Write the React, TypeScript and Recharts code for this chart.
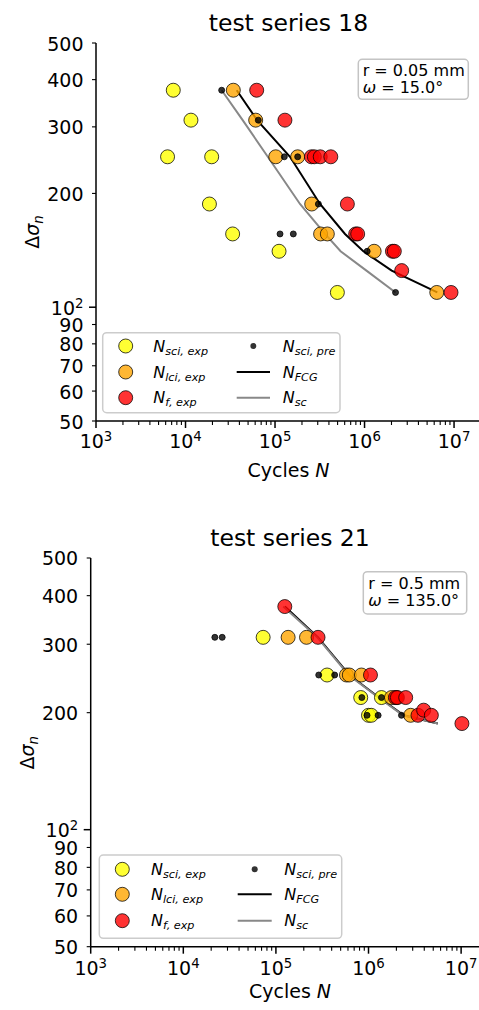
import React from "react";
import { ComposedChart, Scatter, Line, XAxis, YAxis } from "recharts";

// test series 18  [cycles N, stress range]
const sciExp18 = [[7300, 375], [11500, 312.5], [6300, 250], [19600, 250], [18500, 187.5], [33600, 156.25], [110900, 140.6], [497000, 109.4]];
const lciExp18 = [[34200, 375], [60800, 312.5], [101900, 250], [179000, 250], [257000, 187.5], [323000, 156.25], [384000, 156.25], [1280000, 140.6], [6410000, 109.4]];
const fExp18 = [[62400, 375], [129000, 312.5], [255000, 250], [275000, 250], [320000, 250], [420000, 250], [643000, 187.5], [796000, 156.25], [838000, 156.25], [2050000, 140.6], [2150000, 140.6], [2600000, 125], [9250000, 109.4]];
const sciPre18 = [[25350, 375], [65000, 312.5], [127000, 250], [179000, 250], [305000, 187.5], [113700, 156.25], [160000, 156.25], [1070000, 140.6], [2220000, 109.4]];
const fcg18 = [[37300, 375], [63000, 312.5], [147000, 250], [318000, 187.5], [605000, 156.25], [970000, 140.6], [2010000, 125], [6500000, 109.4]];
const sc18 = [[25350, 375], [43500, 312.5], [83000, 250], [190000, 187.5], [362000, 156.25], [540000, 140.6], [1050000, 125], [2220000, 109.4]];

// test series 21
const sciExp21 = [[72800, 312.5], [357000, 250], [824000, 218.75], [1380000, 218.75], [1000000, 196.9], [1070000, 196.9]];
const lciExp21 = [[135500, 312.5], [214000, 312.5], [578000, 250], [620000, 250], [838000, 250], [1770000, 218.75], [2000000, 218.75], [2850000, 196.9]];
const fExp21 = [[124700, 375], [285000, 312.5], [1050000, 250], [1950000, 218.75], [2050000, 218.75], [2520000, 218.75], [3420000, 196.9], [3940000, 203], [4770000, 196.9], [10200000, 187.5]];
const sciPre21 = [[21900, 312.5], [26300, 312.5], [290000, 250], [431000, 250], [847000, 218.75], [1380000, 218.75], [964000, 196.9], [1270000, 196.9], [2270000, 196.9]];
const fcg21 = [[125000, 375], [285000, 312.5], [620000, 250], [1300000, 218.75], [2400000, 196.9], [5600000, 187.5]];
const sc21 = [[120000, 375], [280000, 312.5], [610000, 250], [1280000, 218.75], [2350000, 196.9], [5600000, 187.5]];

const xTicks = [
  1e3, 2e3, 3e3, 4e3, 5e3, 6e3, 7e3, 8e3, 9e3,
  1e4, 2e4, 3e4, 4e4, 5e4, 6e4, 7e4, 8e4, 9e4,
  1e5, 2e5, 3e5, 4e5, 5e5, 6e5, 7e5, 8e5, 9e5,
  1e6, 2e6, 3e6, 4e6, 5e6, 6e6, 7e6, 8e6, 9e6,
  1e7, 2e7,
];
const yTicks = [50, 60, 70, 80, 90, 100, 200, 300, 400, 500];

const FONT = "DejaVu Sans";
const R = 7;
const toPts = (a: number[][]) => a.map(([n, s]) => ({ n, s }));

const dot = (color: string, r: number) => (p: any) =>
  <circle cx={p.cx} cy={p.cy} r={r} fill={color} fillOpacity={0.8} stroke="#000" strokeOpacity={0.75} strokeWidth={1} />;

const xTick = (labelDy: number) => (p: any) => {
  const v = p.payload.value;
  const e = Math.round(Math.log10(v));
  const major = Math.abs(Math.log10(v) - e) < 1e-6;
  return (
    <g>
      <line x1={p.x} y1={p.y} x2={p.x} y2={p.y + (major ? 7 : 4)} stroke="#000" strokeWidth={major ? 1.5 : 1.1} />
      {major && (
        <text x={p.x} y={p.y + labelDy} textAnchor="middle" fontSize={19} fontFamily={FONT} fill="#000">
          10<tspan dy={-7} fontSize={13.3}>{e}</tspan>
        </text>
      )}
    </g>
  );
};

const yTick = (p: any) => {
  const v = p.payload.value;
  const major = v === 100;
  return (
    <g>
      <line x1={p.x - (major ? 7 : 4)} y1={p.y} x2={p.x} y2={p.y} stroke="#000" strokeWidth={major ? 1.5 : 1.1} />
      <text x={p.x - 12.5} y={p.y + 7.5} textAnchor="end" fontSize={19} fontFamily={FONT} fill="#000">
        {major ? <>10<tspan dy={-7} fontSize={13.3}>2</tspan></> : String(v)}
      </text>
    </g>
  );
};

function Panel(props: any) {
  const { left, top, right, bottom, labelDy, sciExp, lciExp, fExp, sciPre, fcg, sc } = props;
  const mt = 40;
  return (
    <div style={{ position: "absolute", left: 0, top: top - mt }}>
      <ComposedChart width={right} height={bottom - top + mt + 60} margin={{ top: mt, right: 0, bottom: 0, left: 0 }}>
        <XAxis
          type="number" dataKey="n" scale="log" domain={[1e3, 2e7]} allowDataOverflow
          ticks={xTicks} interval={0} tick={xTick(labelDy)} tickLine={false} tickSize={0} tickMargin={0}
          axisLine={{ stroke: "#000", strokeWidth: 1.5 }} height={60}
        />
        <XAxis
          xAxisId="top" orientation="top" type="number" dataKey="n" scale="log" domain={[1e3, 2e7]}
          allowDataOverflow tick={false} tickLine={false} height={0} axisLine={{ stroke: "#000", strokeWidth: 1.5 }}
        />
        <YAxis
          type="number" dataKey="s" scale="log" domain={[50, 500]} allowDataOverflow
          ticks={yTicks} interval={0} tick={yTick} tickLine={false} tickSize={0} tickMargin={0}
          axisLine={{ stroke: "#000", strokeWidth: 1.5 }} width={left}
        />
        <Scatter data={toPts(sciExp)} shape={dot("#ffff00", R)} isAnimationActive={false} />
        <Scatter data={toPts(lciExp)} shape={dot("#ffa500", R)} isAnimationActive={false} />
        <Scatter data={toPts(fExp)} shape={dot("#ff0000", R)} isAnimationActive={false} />
        <Scatter data={toPts(sciPre)} shape={dot("#000000", 3)} isAnimationActive={false} />
        <Line data={toPts(fcg)} dataKey="s" type="linear" stroke="#000" strokeWidth={2} dot={false} isAnimationActive={false} />
        <Line data={toPts(sc)} dataKey="s" type="linear" stroke="#888" strokeWidth={2} dot={false} isAnimationActive={false} />
      </ComposedChart>
    </div>
  );
}

function Legend(props: any) {
  const { bx, by, bw, bh, rows, m1, t1, l0, l1, t2 } = props;
  const lab = (x: number, y: number, main: string, sub: string) => (
    <text x={x} y={y + 5.5} fontSize={16} fontStyle="italic" fontFamily={FONT} fill="#000">
      {main}<tspan dy={3} fontSize={11.2}>{sub}</tspan>
    </text>
  );
  const mk = (y: number, c: string) =>
    <circle cx={m1} cy={y} r={R} fill={c} fillOpacity={0.8} stroke="#000" strokeOpacity={0.75} strokeWidth={1} />;
  return (
    <g>
      <rect x={bx} y={by} width={bw} height={bh} rx={4} fill="#fff" fillOpacity={0.8} stroke="#cccccc" strokeWidth={1.5} />
      {mk(rows[0], "#ffff00")}
      {mk(rows[1], "#ffa500")}
      {mk(rows[2], "#ff0000")}
      {lab(t1, rows[0], "N", "sci, exp")}
      {lab(t1, rows[1], "N", "lci, exp")}
      {lab(t1, rows[2], "N", "f, exp")}
      <circle cx={(l0 + l1) / 2} cy={rows[0]} r={3} fill="#000" fillOpacity={0.8} />
      <line x1={l0} y1={rows[1]} x2={l1} y2={rows[1]} stroke="#000" strokeWidth={2} />
      <line x1={l0} y1={rows[2]} x2={l1} y2={rows[2]} stroke="#888" strokeWidth={2} />
      {lab(t2, rows[0], "N", "sci, pre")}
      {lab(t2, rows[1], "N", "FCG")}
      {lab(t2, rows[2], "N", "sc")}
    </g>
  );
}

function Info(props: any) {
  const { bx, by, bw, bh, tx, y1, y2, r, w } = props;
  return (
    <g fontFamily={FONT} fontSize={16} fill="#000">
      <rect x={bx} y={by} width={bw} height={bh} rx={4} fill="#fff" stroke="#c4c4c4" strokeWidth={1.5} />
      <text x={tx} y={y1}>r = {r} mm</text>
      <text x={tx} y={y2}><tspan fontStyle="italic">ω</tspan> = {w}°</text>
    </g>
  );
}

function AxisText(props: any) {
  const { title, tx, ty, yx, yy, xx, xy } = props;
  return (
    <g fontFamily={FONT} fill="#000">
      <text x={tx} y={ty} textAnchor="middle" fontSize={23.5}>{title}</text>
      <text transform={`translate(${yx},${yy}) rotate(-90)`} textAnchor="middle" fontSize={19}>
        Δ<tspan fontStyle="italic">σ</tspan><tspan fontStyle="italic" fontSize={13.3} dy={4}>n</tspan>
      </text>
      <text x={xx} y={xy} textAnchor="middle" fontSize={19}>
        Cycles <tspan fontStyle="italic">N</tspan>
      </text>
    </g>
  );
}

export default function App() {
  return (
    <div style={{ position: "absolute", left: 0, top: 0, width: 479, height: 1010, overflow: "hidden", background: "#fff" }}>
      <Panel left={96} top={43} right={481} bottom={421} labelDy={27}
        sciExp={sciExp18} lciExp={lciExp18} fExp={fExp18} sciPre={sciPre18} fcg={fcg18} sc={sc18} />
      <Panel left={90.7} top={558.3} right={489} bottom={947} labelDy={28.5}
        sciExp={sciExp21} lciExp={lciExp21} fExp={fExp21} sciPre={sciPre21} fcg={fcg21} sc={sc21} />
      <svg width={479} height={1010} style={{ position: "absolute", left: 0, top: 0, pointerEvents: "none" }}>
        <AxisText title="test series 18" tx={288.5} ty={31} yx={39} yy={232} xx={288.5} xy={477} />
        <AxisText title="test series 21" tx={290} ty={546} yx={34} yy={752.7} xx={290} xy={997.5} />
        <Info bx={358.3} by={59.3} bw={110} bh={40} tx={362.7} y1={75.5} y2={93} r="0.05" w="15.0" />
        <Info bx={363.3} by={571.7} bw={103.4} bh={42.3} tx={368.3} y1={589} y2={606} r="0.5" w="135.0" />
        <Legend bx={102.7} by={332.7} bw={237.3} bh={80} rows={[346, 372, 397.7]} m1={125.7} t1={153.3} l0={236.7} l1={270} t2={282.7} />
        <Legend bx={99.3} by={855} bw={242.4} bh={83.3} rows={[869.3, 894.3, 920.7]} m1={122.3} t1={151} l0={237.7} l1={271.7} t2={284.3} />
      </svg>
    </div>
  );
}
